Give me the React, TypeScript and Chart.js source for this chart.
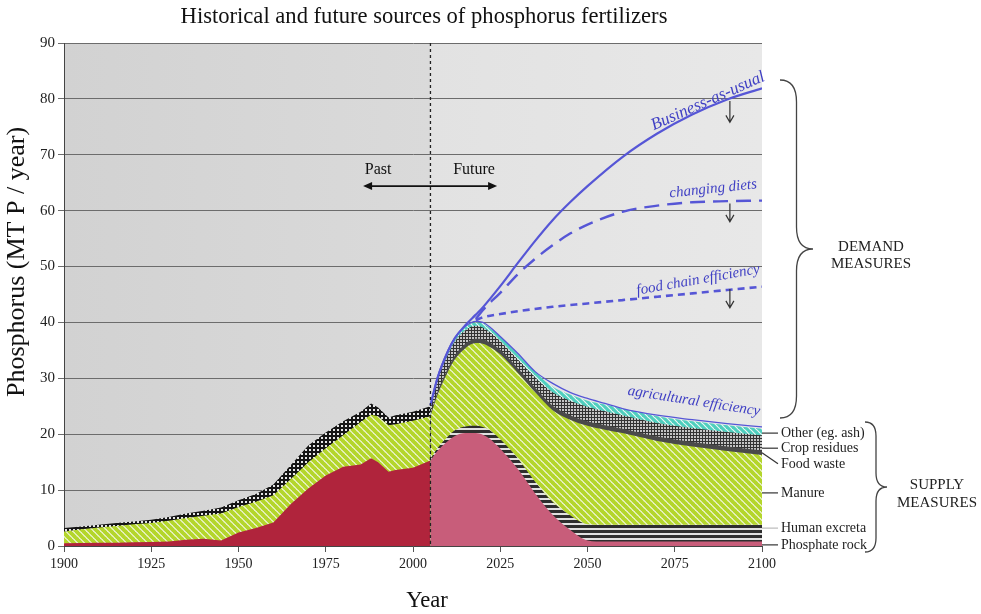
import React, { useEffect, useRef } from "react";
import { Chart, registerables } from "chart.js";

Chart.register(...registerables);

const TITLE = "Historical and future sources of phosphorus fertilizers";
const X_TITLE = "Year";
const Y_TITLE = "Phosphorus (MT P / year)";

// ---- Past (1900-2005) layer thicknesses, MT P / year ----
const pastYears = [1900, 1905, 1910, 1915, 1920, 1925, 1930, 1935, 1940, 1945, 1950, 1955, 1960, 1965, 1970, 1975, 1980, 1985, 1988, 1990, 1993, 1995, 2000, 2005];
const pastRock = [0.5, 0.55, 0.6, 0.6, 0.65, 0.7, 0.8, 1.1, 1.3, 1.0, 2.4, 3.2, 4.2, 7.5, 10.3, 12.6, 14.2, 14.6, 15.7, 15.0, 13.3, 13.6, 14.0, 15.3];
const pastManure = [2.1, 2.45, 2.7, 3.0, 3.25, 3.4, 3.7, 3.9, 4.1, 4.8, 4.6, 4.7, 4.9, 4.5, 4.7, 4.9, 5.6, 7.6, 7.8, 8.2, 8.3, 8.2, 8.4, 7.9];
const pastResidues = [0.6, 0.5, 0.5, 0.5, 0.5, 0.6, 0.7, 0.8, 0.9, 1.1, 1.2, 1.4, 1.9, 2.5, 3.0, 2.8, 2.5, 1.8, 2.0, 1.6, 1.4, 1.6, 1.6, 1.8];

// ---- Future (2005-2100) layer thicknesses ----
const futureYears = [2005, 2007, 2010, 2012, 2015, 2018, 2020, 2022, 2025, 2030, 2035, 2040, 2045, 2050, 2055, 2060, 2070, 2080, 2090, 2100];
const futureRock = [15.3, 17.0, 18.8, 19.7, 20.2, 20.2, 19.9, 19.2, 17.4, 13.8, 9.4, 5.6, 2.9, 1.0, 0.8, 0.8, 0.8, 0.8, 0.8, 0.8];
const futureExcreta = [0.3, 0.5, 0.8, 1.0, 1.2, 1.3, 1.4, 1.5, 1.7, 1.9, 2.1, 2.3, 2.6, 2.9, 3.0, 3.0, 3.0, 3.0, 3.0, 3.0];
const futureManure = [7.6, 9.5, 11.6, 12.7, 14.0, 14.8, 14.9, 14.9, 15.2, 15.3, 16.0, 16.4, 17.1, 17.6, 17.0, 16.4, 15.0, 14.0, 13.2, 12.5];
const futureFoodWaste = [0.3, 0.5, 0.6, 0.7, 0.8, 0.8, 0.8, 0.8, 0.8, 0.8, 0.8, 0.8, 0.8, 0.8, 0.8, 0.8, 0.8, 0.8, 0.8, 0.8];
const futureCropResidues = [1.3, 2.2, 2.4, 2.5, 2.4, 2.3, 2.1, 1.9, 1.6, 1.6, 1.9, 2.4, 2.6, 2.6, 2.5, 2.4, 2.4, 2.5, 2.6, 2.7];
const futureOther = [0.2, 0.3, 0.4, 0.5, 0.6, 0.6, 0.7, 0.7, 0.8, 0.9, 1.0, 1.0, 1.1, 1.1, 1.2, 1.2, 1.2, 1.2, 1.2, 1.2];

// ---- Demand scenarios ----
const bauYears = [2005, 2007, 2010, 2012, 2015, 2018, 2020, 2025, 2030, 2035, 2040, 2045, 2050, 2060, 2070, 2080, 2090, 2100];
const businessAsUsual = [25.2, 30.0, 34.8, 37.2, 39.5, 41.4, 42.7, 46.5, 50.6, 54.6, 58.3, 61.5, 64.4, 69.6, 73.8, 77.2, 79.9, 81.9];
const dietYears = [2018, 2020, 2025, 2030, 2035, 2040, 2045, 2050, 2060, 2070, 2080, 2090, 2100];
const changingDiets = [40.6, 42.2, 45.3, 48.6, 51.4, 53.8, 55.9, 57.5, 59.8, 60.9, 61.5, 61.7, 61.8];
const chainYears = [2018, 2020, 2025, 2030, 2040, 2050, 2060, 2070, 2080, 2090, 2100];
const foodChainEfficiency = [40.4, 40.9, 41.5, 42.0, 42.8, 43.4, 44.0, 44.6, 45.2, 45.8, 46.4];
const agriculturalEfficiency = [25.2, 30.2, 35.0, 37.3, 39.3, 40.2, 40.0, 39.2, 37.5, 34.5, 31.2, 29.1, 27.5, 26.4, 25.5, 24.6, 23.4, 22.6, 21.9, 21.3];

const supplyLabels = ["Other (eg. ash)", "Crop residues", "Food waste", "Manure", "Human excreta", "Phosphate rock"];
const supplyLabelValues = [20.2, 17.5, 14.7, 9.5, 3.2, 0.2];

const SERIF = '"Liberation Serif", "Times New Roman", serif';
const BLUE = "#5656d6";

function cumulative(layers: number[][]): number[][] {
  const out: number[][] = [];
  let acc = layers[0].map(() => 0);
  for (const l of layers) {
    acc = acc.map((v, i) => v + l[i]);
    out.push(acc);
  }
  return out;
}

function makePattern(w: number, h: number, draw: (g: CanvasRenderingContext2D) => void) {
  const c = document.createElement("canvas");
  c.width = w;
  c.height = h;
  const g = c.getContext("2d")!;
  draw(g);
  return g.createPattern(c, "repeat")!;
}

function diagStripes(color: string, bg: string, p: number, lw: number) {
  return makePattern(p, p, (g) => {
    g.fillStyle = bg;
    g.fillRect(0, 0, p, p);
    g.strokeStyle = color;
    g.lineWidth = lw;
    for (let k = -1; k <= 1; k++) {
      g.beginPath();
      g.moveTo(k * p - 1, -1);
      g.lineTo(k * p + p + 1, p + 1);
      g.stroke();
    }
  });
}

function checker(dark: string, light: string, p: number, s: number) {
  return makePattern(p, p, (g) => {
    g.fillStyle = dark;
    g.fillRect(0, 0, p, p);
    g.fillStyle = light;
    g.fillRect(1, 1, s, s);
  });
}

function hStripes(dark: string, light: string, d: number, l: number) {
  return makePattern(4, d + l, (g) => {
    g.fillStyle = light;
    g.fillRect(0, 0, 4, d + l);
    g.fillStyle = dark;
    g.fillRect(0, 0, 4, d);
  });
}

function drawBrace(ctx: CanvasRenderingContext2D, x: number, y1: number, y2: number, w: number, r: number) {
  const ym = (y1 + y2) / 2;
  const xm = x + w / 2;
  ctx.beginPath();
  ctx.moveTo(x, y1);
  ctx.quadraticCurveTo(xm, y1, xm, y1 + r);
  ctx.lineTo(xm, ym - r);
  ctx.quadraticCurveTo(xm, ym, x + w, ym);
  ctx.quadraticCurveTo(xm, ym, xm, ym + r);
  ctx.lineTo(xm, y2 - r);
  ctx.quadraticCurveTo(xm, y2, x, y2);
  ctx.stroke();
}

const decor = {
  id: "decor",
  beforeDraw(chart: any) {
    const { ctx, chartArea: a, scales } = chart;
    const xs = scales.x.getPixelForValue(2005);
    ctx.save();
    const gp = ctx.createLinearGradient(a.left, 0, xs, 0);
    gp.addColorStop(0, "#d2d2d2");
    gp.addColorStop(1, "#dadada");
    ctx.fillStyle = gp;
    ctx.fillRect(a.left, a.top, xs - a.left, a.bottom - a.top);
    const gf = ctx.createLinearGradient(xs, 0, a.right, 0);
    gf.addColorStop(0, "#e2e2e2");
    gf.addColorStop(1, "#e8e8e8");
    ctx.fillStyle = gf;
    ctx.fillRect(xs, a.top, a.right - xs, a.bottom - a.top);
    ctx.fillStyle = "#111";
    ctx.font = `22.6px ${SERIF}`;
    ctx.textAlign = "center";
    ctx.textBaseline = "middle";
    ctx.fillText(TITLE, 424, 17);
    // axis titles
    ctx.fillText(X_TITLE, 427, 601);
    ctx.save();
    ctx.translate(17, 262);
    ctx.rotate(-Math.PI / 2);
    ctx.font = `26px ${SERIF}`;
    ctx.fillText(Y_TITLE, 0, 0);
    ctx.restore();
    ctx.restore();
  },
  afterDatasetsDraw(chart: any) {
    const { ctx, chartArea: a, scales } = chart;
    const X = (v: number) => scales.x.getPixelForValue(v);
    const Y = (v: number) => scales.y.getPixelForValue(v);
    ctx.save();
    // 2005 divider
    ctx.strokeStyle = "#222";
    ctx.lineWidth = 1.3;
    ctx.setLineDash([3, 3]);
    ctx.beginPath();
    ctx.moveTo(X(2005), a.top);
    ctx.lineTo(X(2005), a.bottom);
    ctx.stroke();
    ctx.setLineDash([]);

    // Past / Future
    ctx.fillStyle = "#111";
    ctx.font = `16px ${SERIF}`;
    ctx.textAlign = "center";
    ctx.textBaseline = "middle";
    ctx.fillText("Past", X(1990), Y(67.3));
    ctx.fillText("Future", X(2017.5), Y(67.3));
    const ay = Y(64.4);
    const ax1 = X(1985.7);
    const ax2 = X(2024.1);
    ctx.strokeStyle = "#111";
    ctx.lineWidth = 1.6;
    ctx.beginPath();
    ctx.moveTo(ax1 + 4, ay);
    ctx.lineTo(ax2 - 4, ay);
    ctx.stroke();
    ctx.beginPath();
    ctx.moveTo(ax1, ay);
    ctx.lineTo(ax1 + 9, ay - 4);
    ctx.lineTo(ax1 + 9, ay + 4);
    ctx.closePath();
    ctx.moveTo(ax2, ay);
    ctx.lineTo(ax2 - 9, ay - 4);
    ctx.lineTo(ax2 - 9, ay + 4);
    ctx.closePath();
    ctx.fill();

    // blue scenario labels
    const rot = (t: string, x: number, y: number, deg: number, size: number) => {
      ctx.save();
      ctx.translate(x, y);
      ctx.rotate((deg * Math.PI) / 180);
      ctx.fillStyle = "#3f3fc4";
      ctx.font = `italic ${size}px ${SERIF}`;
      ctx.textAlign = "center";
      ctx.textBaseline = "middle";
      ctx.fillText(t, 0, 0);
      ctx.restore();
    };
    rot("Business-as-usual", X(2084.5), Y(79.6), -24, 17);
    rot("changing diets", X(2086), Y(63.9), -6, 15);
    rot("food chain efficiency", X(2081.7), Y(47.6), -10, 15);
    rot("agricultural efficiency", X(2080.5), Y(25.9), 9, 15);

    // down arrows
    ctx.strokeStyle = "#333";
    ctx.lineWidth = 1.2;
    const down = (v1: number, v2: number) => {
      const xx = X(2090.8);
      ctx.beginPath();
      ctx.moveTo(xx, Y(v1));
      ctx.lineTo(xx, Y(v2));
      ctx.moveTo(xx - 4, Y(v2) - 7);
      ctx.lineTo(xx, Y(v2));
      ctx.lineTo(xx + 4, Y(v2) - 7);
      ctx.stroke();
    };
    down(79.6, 75.8);
    down(61.3, 58.0);
    down(46.0, 42.6);

    // supply labels with leaders
    ctx.font = `14px ${SERIF}`;
    ctx.textAlign = "left";
    ctx.fillStyle = "#222";
    supplyLabels.forEach((t, i) => {
      const yy = Y(supplyLabelValues[i]);
      ctx.strokeStyle = i === 4 ? "#bbb" : "#333";
      ctx.lineWidth = 1.2;
      ctx.beginPath();
      ctx.moveTo(a.right, i === 2 ? Y(16.7) : yy);
      ctx.lineTo(a.right + 16, yy);
      ctx.stroke();
      ctx.fillText(t, a.right + 19, yy);
    });

    // braces
    ctx.strokeStyle = "#444";
    ctx.lineWidth = 1.3;
    drawBrace(ctx, a.right + 18, a.top + 37, a.top + 375, 33, 22);
    drawBrace(ctx, a.right + 103, a.top + 379, a.top + 509, 22, 14);
    ctx.fillStyle = "#222";
    ctx.font = `15px ${SERIF}`;
    ctx.textAlign = "center";
    ctx.fillText("DEMAND", a.right + 109, a.top + 204);
    ctx.fillText("MEASURES", a.right + 109, a.top + 221);
    ctx.fillText("SUPPLY", a.right + 175, a.top + 442);
    ctx.fillText("MEASURES", a.right + 175, a.top + 460);
    ctx.restore();
  },
};

export default function App() {
  const ref = useRef<HTMLCanvasElement | null>(null);

  useEffect(() => {
    if (!ref.current) return;
    const green = diagStripes("#b4d62c", "#f7f8ef", 7, 4.0);
    const teal = diagStripes("#4fcfbe", "#f2f8f6", 6, 3.2);
    const blackChecker = checker("#151515", "#e6e6e6", 4, 2);
    const gridHatch = checker("#333333", "#c4c4c4", 3, 2);
    const stripes = hStripes("#2e2e2e", "#e0e0e0", 3, 2);

    const pastTops = cumulative([pastRock, pastManure, pastResidues]);
    const futTops = cumulative([futureRock, futureExcreta, futureManure, futureFoodWaste, futureCropResidues, futureOther]);

    const pts = (xs: number[], ys: number[]) => xs.map((x, i) => ({ x, y: ys[i] }));
    const area = (label: string, xs: number[], ys: number[], bg: any, order: number, smooth: boolean) => ({
      type: "line",
      label,
      data: pts(xs, ys),
      backgroundColor: bg,
      borderColor: "rgba(0,0,0,0)",
      borderWidth: 0,
      pointRadius: 0,
      fill: "origin",
      order,
      tension: smooth ? 0.4 : 0,
      cubicInterpolationMode: smooth ? "monotone" : "default",
    });
    const line = (label: string, xs: number[], ys: number[], width: number, dash: number[]) => ({
      type: "line",
      label,
      data: pts(xs, ys),
      borderColor: BLUE,
      borderWidth: width,
      borderDash: dash,
      pointRadius: 0,
      fill: false,
      order: 0,
      cubicInterpolationMode: "monotone",
    });

    const chart = new Chart(ref.current, {
      type: "line",
      data: {
        datasets: [
          area("Phosphate rock (past)", pastYears, pastTops[0], "#b0243c", 1, false),
          area("Manure (past)", pastYears, pastTops[1], green, 2, false),
          area("Crop residues (past)", pastYears, pastTops[2], blackChecker, 3, false),
          area("Phosphate rock", futureYears, futTops[0], "#c85d7a", 1, true),
          area("Human excreta", futureYears, futTops[1], stripes, 2, true),
          area("Manure", futureYears, futTops[2], green, 3, true),
          area("Food waste", futureYears, futTops[3], "#4a4a4a", 4, true),
          area("Crop residues", futureYears, futTops[4], gridHatch, 5, true),
          area("Other (eg. ash)", futureYears, futTops[5], teal, 6, true),
          line("agricultural efficiency", futureYears, agriculturalEfficiency, 1.3, []),
          line("food chain efficiency", chainYears, foodChainEfficiency, 2.6, [7, 5]),
          line("changing diets", dietYears, changingDiets, 2.4, [15, 8]),
          line("Business-as-usual", bauYears, businessAsUsual, 2.2, []),
        ] as any,
      },
      options: {
        responsive: false,
        animation: false,
        layout: { padding: { left: 0, right: 219, top: 43, bottom: 0 } },
        plugins: { legend: { display: false }, tooltip: { enabled: false }, title: { display: false } },
        scales: {
          x: {
            type: "linear",
            min: 1900,
            max: 2100,
            ticks: { stepSize: 25, color: "#222", font: { family: SERIF, size: 14 }, padding: 4, maxRotation: 0, callback: (v: any) => String(v) },
            grid: { drawOnChartArea: false, drawTicks: true, tickLength: 6, color: "#555" },
            border: { display: true, color: "#444", width: 1 },
            afterFit: (s: any) => {
              s.height = 68;
            },
          },
          y: {
            min: 0,
            max: 90,
            ticks: { stepSize: 10, color: "#222", font: { family: SERIF, size: 15 }, padding: 3 },
            grid: { color: "#6c6c6c", lineWidth: 1, tickLength: 6 },
            border: { display: true, color: "#444", width: 1 },
            afterFit: (s: any) => {
              s.width = 64;
            },
          },
        },
      },
      plugins: [decor],
    });
    return () => chart.destroy();
  }, []);

  return (
    <div style={{ position: "absolute", left: 0, top: 0, width: 981, height: 614, background: "#fff" }}>
      <canvas ref={ref} width={981} height={614} style={{ display: "block" }} />
    </div>
  );
}
